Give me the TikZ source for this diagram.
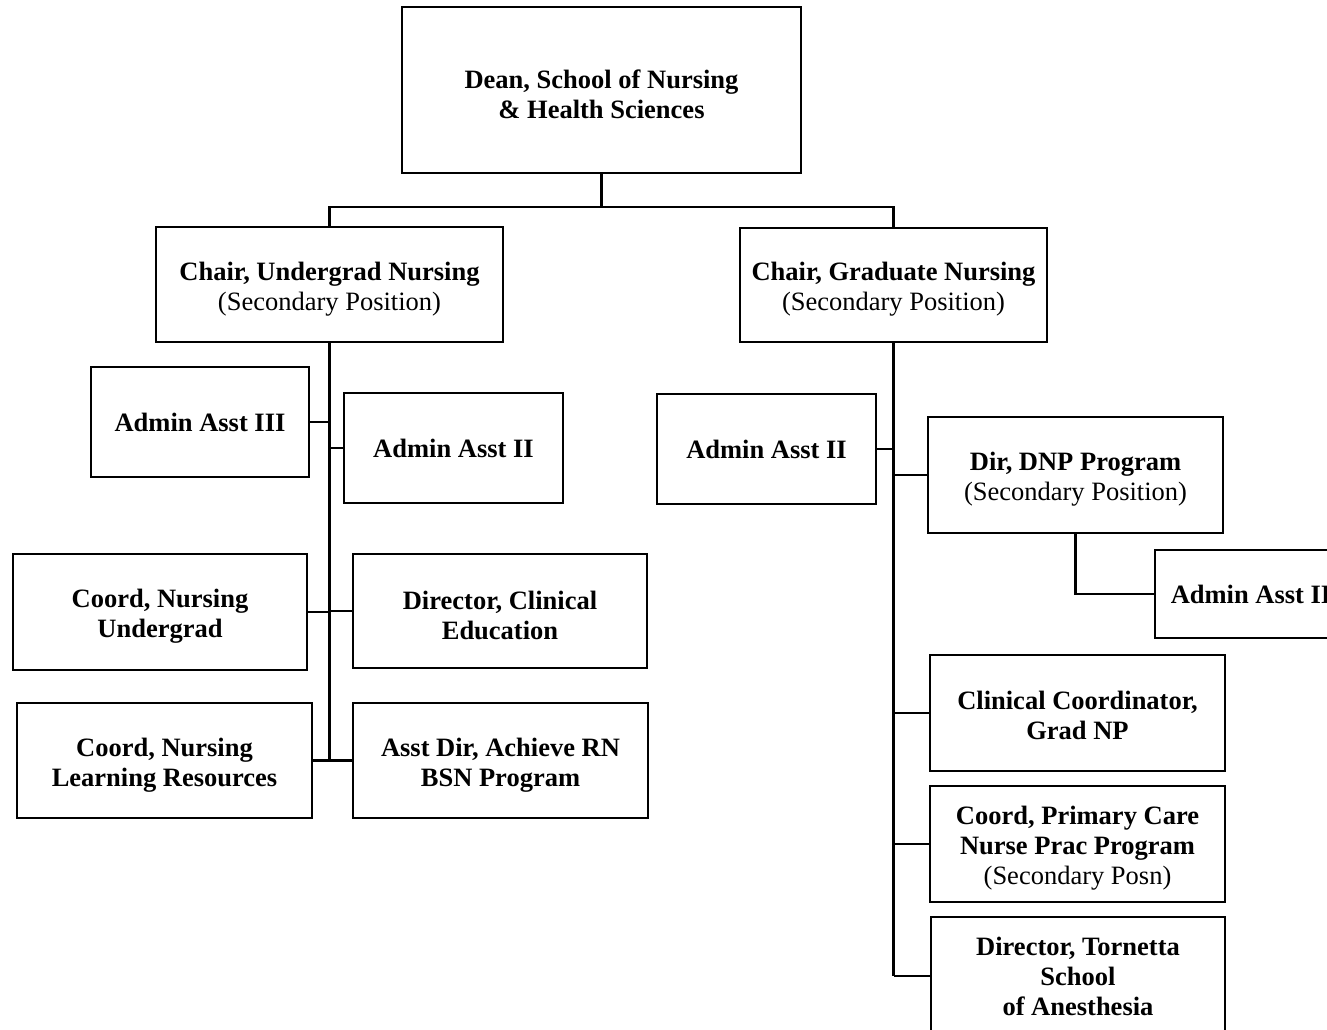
\documentclass[tikz,border=0pt]{standalone}
\usepackage{fontspec}
\setmainfont{Liberation Serif}
\newcommand{\topstrut}{\rule{0pt}{13.6pt}}
\begin{document}
\begin{tikzpicture}[x=0.5pt,y=-0.5pt,
  box/.style={draw, line width=1.1pt, rectangle, inner sep=0pt, align=center,
    font=\fontsize{13.25}{15}\selectfont},
  link/.style={line width=1.1pt}]
\useasboundingbox (0,0) rectangle (1327,1029);
\clip (0,0) rectangle (1327,1029);

% top
\node[box, minimum width=199.5pt, minimum height=83pt] (dean) at (601.5,90)
  {\topstrut\textbf{Dean, School of Nursing}\\\textbf{\& Health Sciences}};
\node[box, minimum width=173.5pt, minimum height=57.5pt] (chairU) at (329.5,284.5)
  {\topstrut\textbf{Chair, Undergrad Nursing}\\(Secondary Position)};
\node[box, minimum width=153.5pt, minimum height=57pt] (chairG) at (893.5,285)
  {\topstrut\textbf{Chair, Graduate Nursing}\\(Secondary Position)};

% undergrad side
\node[box, minimum width=109pt, minimum height=55pt] (aa3) at (200,422)
  {\textbf{Admin Asst III}};
\node[box, minimum width=109.5pt, minimum height=55pt] (aa2L) at (453.5,448)
  {\textbf{Admin Asst II}};
\node[box, minimum width=147pt, minimum height=58pt] (coordUG) at (160,612)
  {\topstrut\textbf{Coord, Nursing}\\\textbf{Undergrad}};
\node[box, minimum width=147pt, minimum height=57pt] (dirClin) at (500,611)
  {\topstrut\textbf{Director, Clinical}\\\textbf{Education}};
\node[box, minimum width=147.5pt, minimum height=57.5pt] (coordLR) at (164.5,760.5)
  {\topstrut\textbf{Coord, Nursing}\\\textbf{Learning Resources}};
\node[box, minimum width=147.5pt, minimum height=57.5pt] (asstDir) at (500.5,760.5)
  {\topstrut\textbf{Asst Dir, Achieve RN}\\\textbf{BSN Program}};

% graduate side
\node[box, minimum width=109.5pt, minimum height=55pt] (aa2G) at (766.5,449)
  {\textbf{Admin Asst II}};
\node[box, minimum width=147.5pt, minimum height=58pt] (dnp) at (1075.5,475)
  {\topstrut\textbf{Dir, DNP Program}\\(Secondary Position)};
\node[box, minimum width=96pt, minimum height=44pt] (aa2R) at (1251,594)
  {\textbf{Admin Asst II}};
\node[box, minimum width=147.5pt, minimum height=58pt] (clinCoord) at (1077.5,713)
  {\rule{0pt}{12pt}\textbf{Clinical Coordinator,}\\\textbf{Grad NP}};
\node[box, minimum width=147.5pt, minimum height=58pt] (coordPC) at (1077.5,844)
  {\topstrut\textbf{Coord, Primary Care}\\\textbf{Nurse Prac Program}\\(Secondary Posn)};
\node[box, minimum width=147pt, minimum height=59pt] (tornetta) at (1078,976)
  {\textbf{Director, Tornetta}\\\textbf{School}\\\textbf{of Anesthesia}};

% connectors
\coordinate (j0) at (601.5,207);
\draw[link] (dean.south) -- (j0);
\draw[link] (chairU.north) |- (j0) -| (chairG.north);

\draw[link] (chairU.south) -- (chairU.south |- coordLR.east);
\draw[link] (aa3.east) -- (aa3.east -| chairU.south);
\draw[link] (aa2L.west) -- (aa2L.west -| chairU.south);
\draw[link] (coordUG.east) -- (coordUG.east -| chairU.south);
\draw[link] (dirClin.west) -- (dirClin.west -| chairU.south);
\draw[link] (coordLR.east) -- (coordLR.east -| chairU.south);
\draw[link] (asstDir.west) -- (asstDir.west -| chairU.south);

\draw[link] (chairG.south) -- (chairG.south |- tornetta.west);
\draw[link] (aa2G.east) -- (aa2G.east -| chairG.south);
\draw[link] (dnp.west) -- (dnp.west -| chairG.south);
\draw[link] (clinCoord.west) -- (clinCoord.west -| chairG.south);
\draw[link] (coordPC.west) -- (coordPC.west -| chairG.south);
\draw[link] (tornetta.west) -- (tornetta.west -| chairG.south);
\draw[link] (dnp.south) |- (aa2R.west);
\end{tikzpicture}
\end{document}
